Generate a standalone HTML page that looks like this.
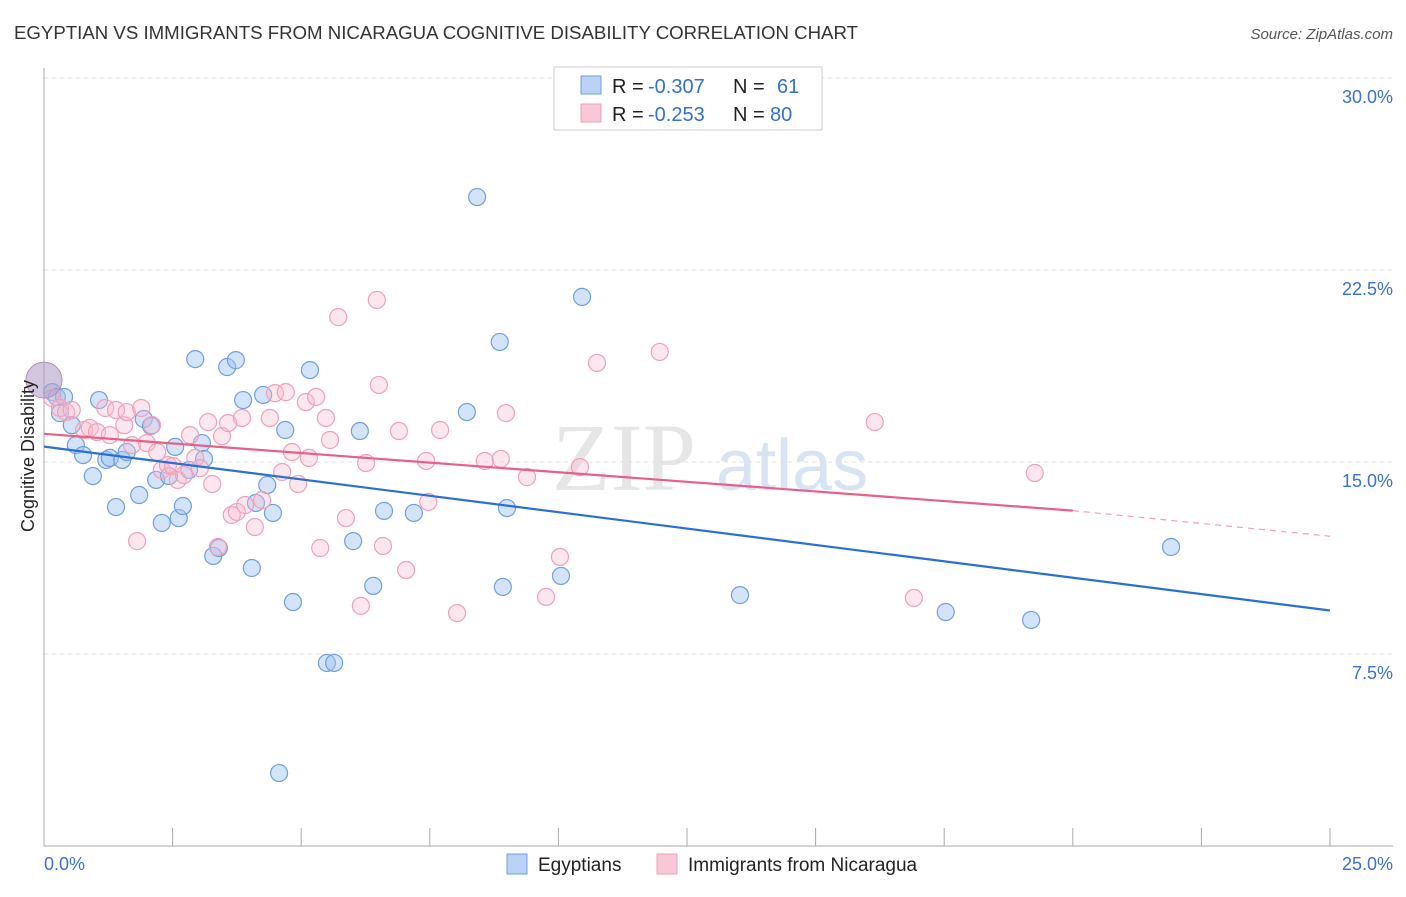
<!DOCTYPE html>
<html><head><meta charset="utf-8"><style>
body{margin:0;background:#fff;font-family:"Liberation Sans",sans-serif}
</style></head><body>
<svg width="1406" height="892" xmlns="http://www.w3.org/2000/svg" font-family="Liberation Sans, sans-serif">
<text x="14" y="39" font-size="18" fill="#333" textLength="844" lengthAdjust="spacingAndGlyphs">EGYPTIAN VS IMMIGRANTS FROM NICARAGUA COGNITIVE DISABILITY CORRELATION CHART</text>
<text x="1393" y="39" font-size="15" fill="#555" font-style="italic" text-anchor="end">Source: ZipAtlas.com</text>
<text x="552" y="490" font-size="96" fill="#e6e6e6" font-family="Liberation Serif, serif">ZIP</text>
<text x="716" y="490" font-size="72" fill="#d8e4f4">atlas</text>
<g id="grid"></g>
<g id="axes"></g>
<g id="marks"></g>
<text transform="translate(34,456) rotate(-90)" font-size="18" fill="#222" text-anchor="middle">Cognitive Disability</text>
<g>
<rect x="554" y="67" width="268" height="63" fill="#fff" stroke="#ccc"/>
<rect x="581" y="76" width="20" height="18" fill="#b9d2f5" stroke="#6f9fe0"/>
<rect x="581" y="104" width="20" height="18" fill="#f9c8d6" stroke="#f0a0b8"/>
<text x="612" y="93" font-size="20" fill="#222">R =</text>
<text x="648" y="93" font-size="20" fill="#3370d0">-0.307</text>
<text x="733" y="93" font-size="20" fill="#222">N =</text>
<text x="777" y="93" font-size="20" fill="#3370d0">61</text>
<text x="612" y="121" font-size="20" fill="#222">R =</text>
<text x="648" y="121" font-size="20" fill="#3370d0">-0.253</text>
<text x="733" y="121" font-size="20" fill="#222">N =</text>
<text x="770" y="121" font-size="20" fill="#3370d0">80</text>
</g>
<g>
<rect x="507" y="854" width="20" height="20" fill="#b9d2f5" stroke="#6f9fe0"/>
<text x="538" y="871" font-size="19" fill="#222">Egyptians</text>
<rect x="657" y="854" width="20" height="20" fill="#f9c8d6" stroke="#f0a0b8"/>
<text x="688" y="871" font-size="19" fill="#222">Immigrants from Nicaragua</text>
</g>
</svg>
<script>
const yTicks=[7.5,15,22.5,30];
const yTickLabels=["7.5%","15.0%","22.5%","30.0%"];
const xTickCount=10;
const xLabels=["0.0%","25.0%"];
const blueX=[0.16,0.25,0.39,0.31,0.54,0.62,0.76,0.95,1.07,1.21,1.28,1.40,1.52,1.61,1.85,1.94,2.08,2.18,2.29,2.43,2.55,2.62,2.70,2.82,2.94,3.07,3.11,3.29,3.40,3.56,3.73,3.87,4.04,4.12,4.26,4.34,4.45,4.69,4.84,5.17,5.50,5.64,6.01,6.14,6.40,6.61,7.19,8.22,8.42,8.86,8.92,9.00,10.05,10.46,13.53,17.53,19.19,21.91,4.57];
const blueY=[17.73,17.54,17.54,16.91,16.44,15.66,15.27,14.45,17.42,15.08,15.16,13.24,15.08,15.39,13.71,16.68,16.41,14.30,12.62,14.45,15.59,12.81,13.28,14.69,19.02,15.74,15.12,11.33,11.64,18.71,18.98,17.42,10.86,13.40,17.62,14.10,13.01,16.25,9.53,18.59,7.15,7.15,11.91,16.21,10.16,13.09,13.01,16.95,25.35,19.69,10.12,13.20,10.55,21.45,9.80,9.14,8.83,11.68,2.85];
const pinkX=[0.16,0.31,0.43,0.54,0.78,0.89,1.03,1.19,1.28,1.40,1.56,1.61,1.71,1.81,1.89,2.00,2.10,2.20,2.29,2.41,2.51,2.60,2.72,2.84,2.94,3.03,3.19,3.27,3.38,3.46,3.58,3.65,3.75,3.85,3.91,4.10,4.24,4.39,4.49,4.63,4.70,4.82,4.94,5.09,5.15,5.29,5.37,5.48,5.56,5.72,5.87,6.16,6.26,6.47,6.51,6.59,6.90,7.04,7.47,7.43,7.70,8.03,8.57,8.88,8.98,9.39,9.76,10.03,10.42,10.75,11.97,16.15,16.91,19.26];
const pinkY=[17.50,17.11,16.95,17.03,16.25,16.33,16.17,17.11,16.05,17.03,16.44,16.95,15.66,11.91,17.11,15.74,16.44,15.39,14.69,14.88,14.84,14.30,14.49,16.05,15.16,14.76,16.56,14.14,11.68,16.01,16.52,12.93,13.05,16.72,13.32,12.46,13.51,16.72,17.69,14.61,17.73,15.39,14.14,17.34,15.16,17.54,11.64,16.72,15.86,20.66,12.81,9.38,14.96,21.33,18.01,11.72,16.21,10.78,13.44,15.04,16.25,9.10,15.04,15.12,16.91,14.41,9.73,11.29,14.80,18.87,19.30,16.56,9.69,14.57];
const bigPoint=[0,18.2];
const blueTrend=[15.6,9.2];
const pinkTrend=[16.1,13.1,12.1];
const pinkSolidEnd=20;
const NS="http://www.w3.org/2000/svg";
const X=v=>44+v/25*1286, Y=v=>846-v/7.5*192;
function mk(t,a,p){const e=document.createElementNS(NS,t);for(const k in a)e.setAttribute(k,a[k]);p.appendChild(e);return e;}
const grid=document.getElementById('grid'),axes=document.getElementById('axes'),marks=document.getElementById('marks');
yTicks.forEach((v,i)=>{
 const l=mk('line',{x1:44,x2:1393,y1:Y(v),y2:Y(v),stroke:'#e2e2e2','stroke-dasharray':'4,4'},grid);
 
 
 const t=mk('text',{x:1393,y:Y(v)+25,'font-size':18,fill:'#3a70d0','text-anchor':'end'},axes);
 t.textContent=yTickLabels[i];
 
 
});
const ya=mk('line',{x1:44,x2:44,y1:68,y2:846,stroke:'#aaa'},axes);


const xa=mk('line',{x1:44,x2:1393,y1:846,y2:846,stroke:'#aaa'},axes);


for(let i=0;i<=xTickCount;i++){
 const tk=mk('line',{x1:X(i*2.5),x2:X(i*2.5),y1:828,y2:846,stroke:'#aaa'},axes);
 
 
}
[[44,'start',0],[1393,'end',1]].forEach(([x,a,i])=>{
 const t=mk('text',{x:x,y:870,'font-size':18,fill:'#3a70d0','text-anchor':a},axes);
 t.textContent=xLabels[i];
 
 
});
blueX.forEach((v,i)=>{
 const c=mk('circle',{cx:X(v),cy:Y(blueY[i]),r:8.5,fill:'rgba(160,195,240,0.45)',stroke:'#6f9fe0','stroke-width':1.2},marks);
 
 
});
pinkX.forEach((v,i)=>{
 const c=mk('circle',{cx:X(v),cy:Y(pinkY[i]),r:8.5,fill:'rgba(248,185,205,0.35)',stroke:'#f0a0b8','stroke-width':1.2},marks);
 
 
});
const bp=mk('circle',{cx:X(bigPoint[0]),cy:Y(bigPoint[1]),r:18,fill:'rgba(180,160,200,0.6)',stroke:'#b090c0'},marks);


const bl=mk('line',{x1:X(0),y1:Y(blueTrend[0]),x2:X(25),y2:Y(blueTrend[1]),stroke:'#2a6fd6','stroke-width':2.2},marks);


const pl=mk('line',{x1:X(0),y1:Y(pinkTrend[0]),x2:X(pinkSolidEnd),y2:Y(pinkTrend[1]),stroke:'#e8608a','stroke-width':2.2},marks);


const pd=mk('line',{x1:X(pinkSolidEnd),y1:Y(pinkTrend[1]),x2:X(25),y2:Y(pinkTrend[2]),stroke:'#e8608a','stroke-width':1.2,'stroke-dasharray':'6,5',opacity:0.6},marks);


</script>
</body></html>
